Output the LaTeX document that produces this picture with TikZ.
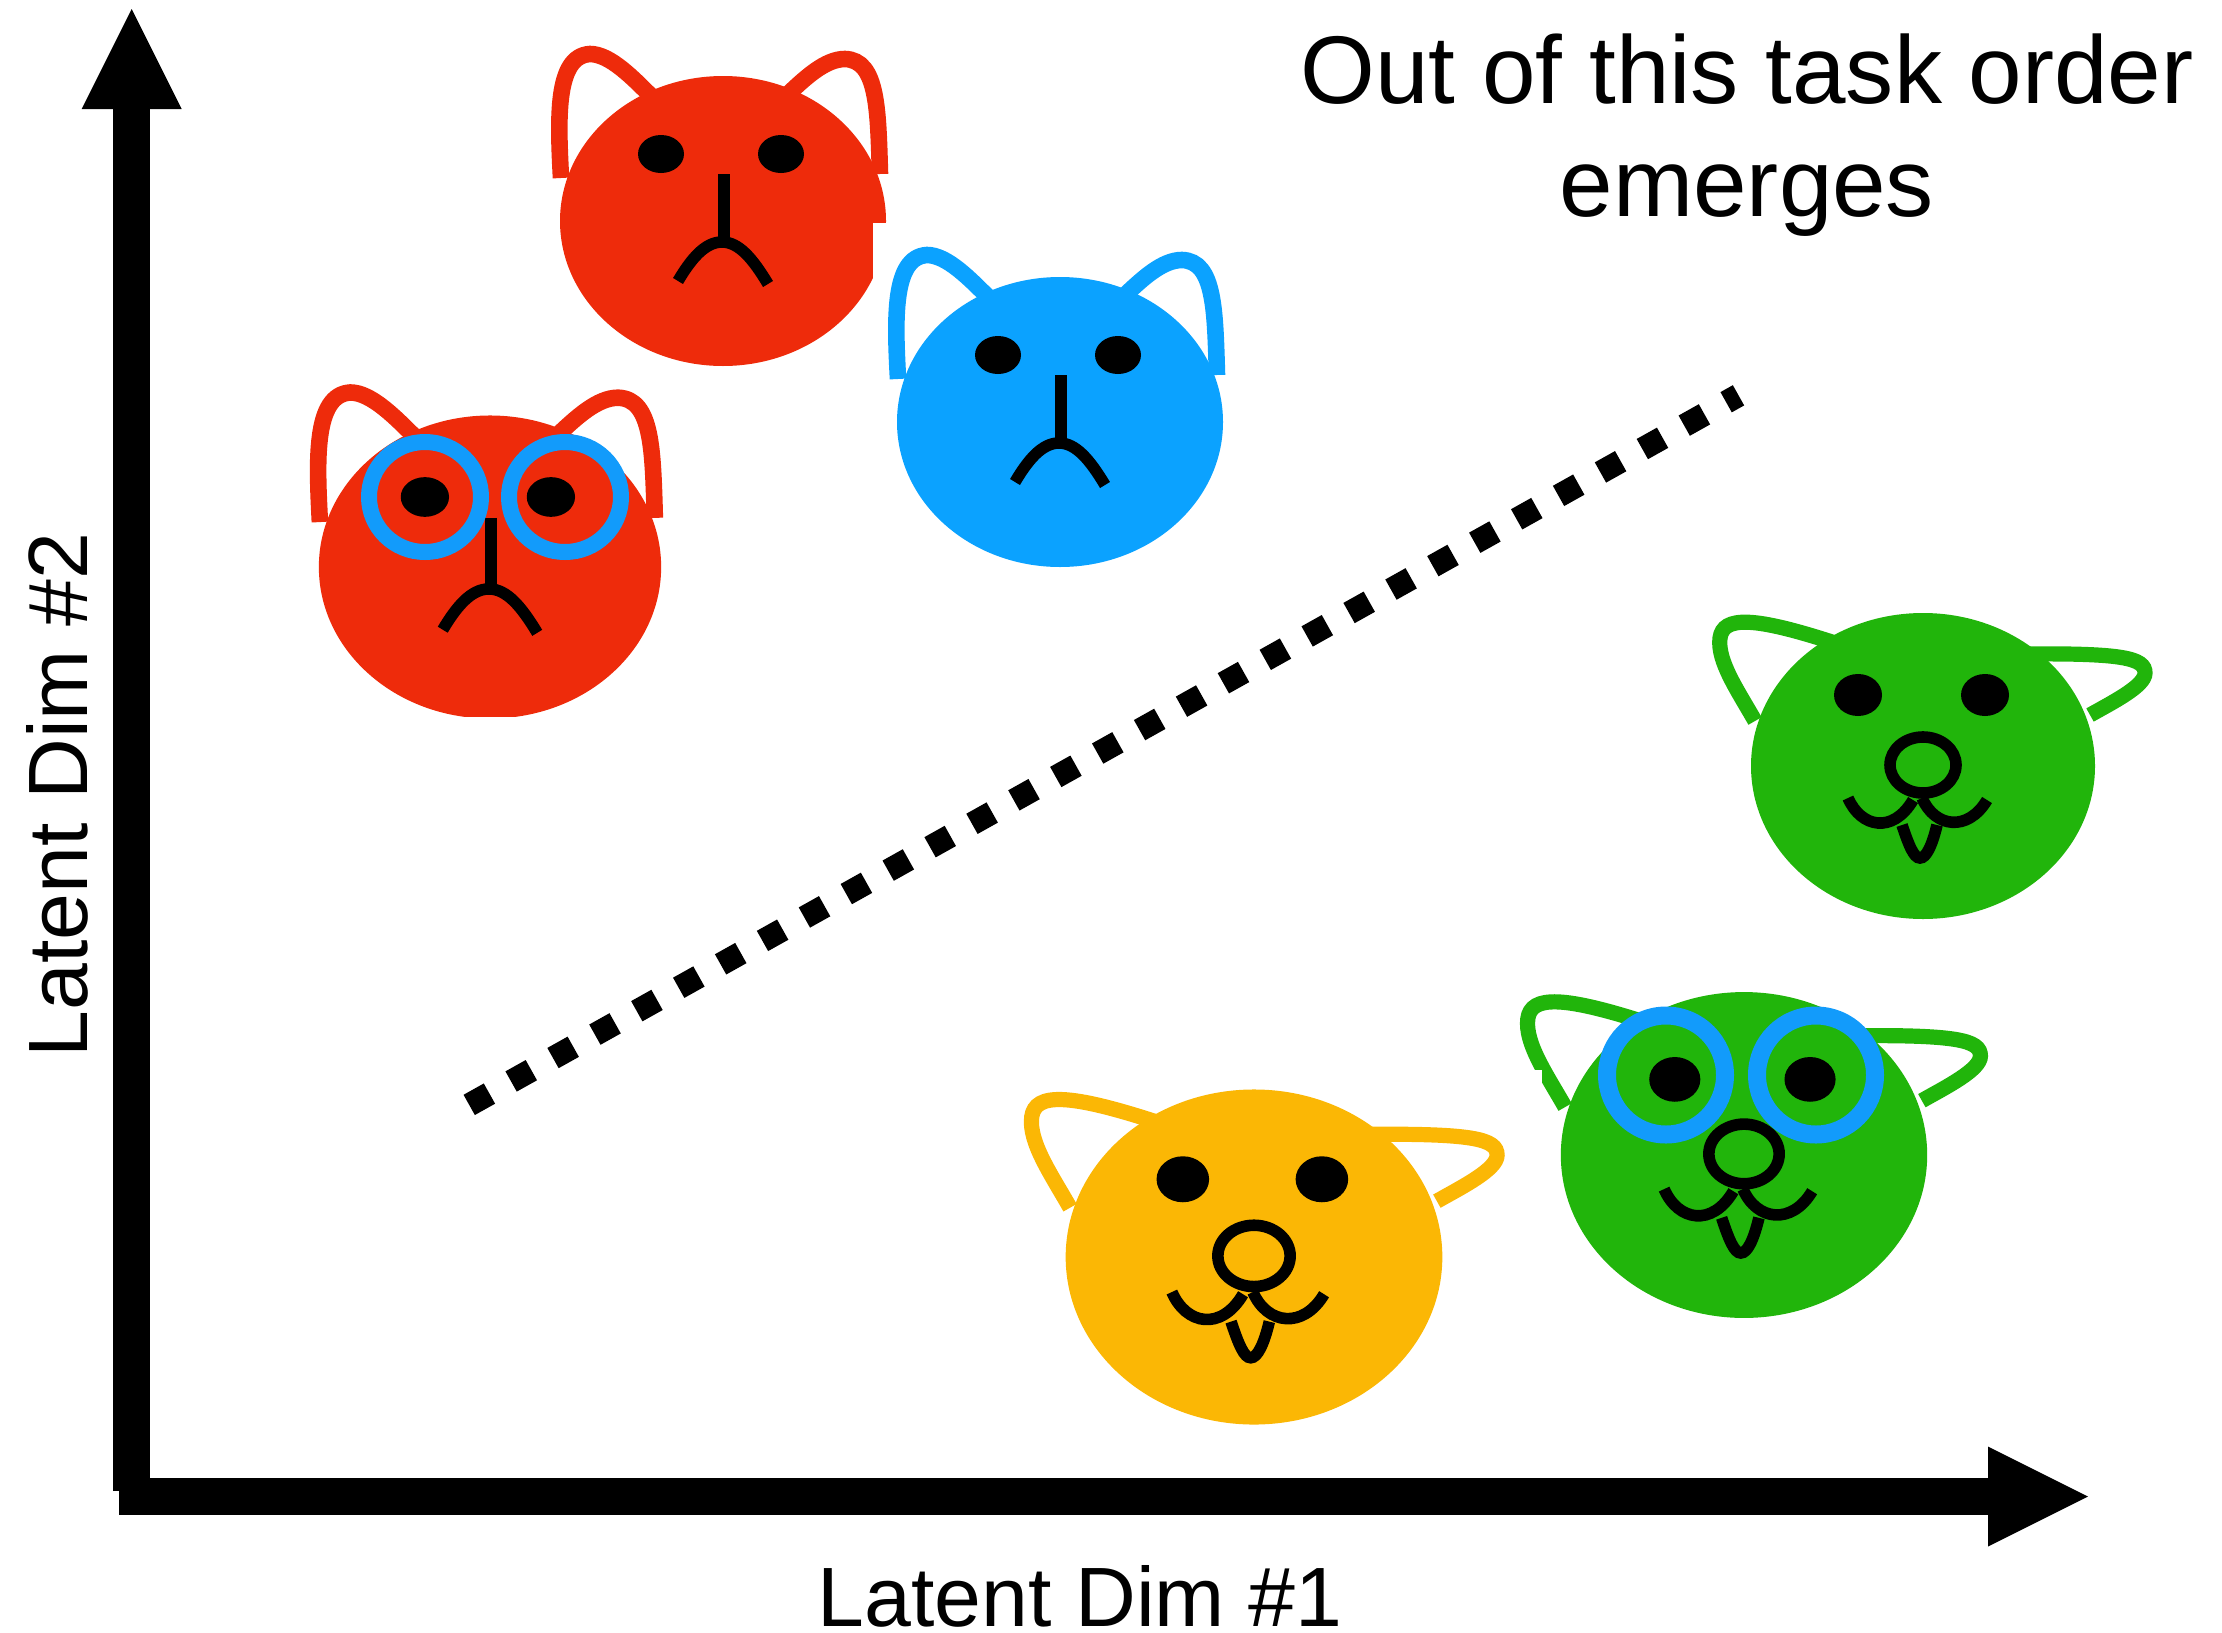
\documentclass[tikz,border=0pt]{standalone}
\usepackage{fontspec}
\setmainfont{Liberation Sans}
\usetikzlibrary{arrows.meta}
\definecolor{catred}{HTML}{EE2B0B}
\definecolor{catblue}{HTML}{0BA2FF}
\definecolor{catgreen}{HTML}{21B50B}
\definecolor{catorange}{HTML}{FBB705}
\definecolor{lensblue}{HTML}{129BFB}
\tikzset{
  axisline/.style={line width=18.5pt,-{Triangle[length=50pt,width=50pt,line width=0pt]}},
  divider/.style={line width=11.6pt,dash pattern=on 11.6pt off 12.4pt},
  earline/.style={line width=8.3pt},
  dogear/.style={line width=7.6pt},
  faceline/.style={line width=5.8pt,black},
  lens/.style={line width=8pt,draw=lensblue},
  widelens/.style={line width=9pt,draw=lensblue},
  caption/.style={font=\fontsize{42.1}{50}\selectfont,inner sep=0pt},
  headline/.style={font=\fontsize{48.1}{56.5}\selectfont,inner sep=0pt,align=center}
}
% sad cat: ears, head, eyes, nose and frown around a centre point
\newcommand{\sadcat}[5]{%
  \begin{scope}[shift={(#1,#2)},xscale=#3,yscale=#4]
    \draw[earline,#5] (-162,-43) .. controls (-165,-101) and (-168,-165) .. (-133,-167)
      .. controls (-113,-167) and (-90,-143) .. (-70,-123);
    \draw[earline,#5] (157,-47) .. controls (155,-111) and (155,-161) .. (122,-162)
      .. controls (102,-162) and (82,-143) .. (62,-124);
    \fill[#5] (0,0) ellipse [x radius=163,y radius=145];
    \fill (-62,-67) ellipse [x radius=23,y radius=19];
    \fill (58,-67) ellipse [x radius=23,y radius=19];
    \draw[faceline,line width=6pt] (1,-47) -- (1,17);
    \draw[faceline] (-45,60) .. controls (-32,38) and (-18,21) .. (-1,21)
      .. controls (16,21) and (30,38) .. (45,63);
  \end{scope}}
% happy cat: ears, head, eyes, ring nose, mouth and tongue around a centre point
\newcommand{\gladcat}[4]{%
  \begin{scope}[shift={(#1,#2)},scale=#3]
    \draw[dogear,#4] (-168,-45) .. controls (-185,-75) and (-206,-105) .. (-203,-128)
      .. controls (-200,-150) and (-170,-150) .. (-85,-122);
    \draw[dogear,#4] (167,-51) .. controls (190,-64) and (222,-80) .. (222,-93)
      .. controls (222,-108) and (200,-113) .. (100,-112);
    \fill[#4] (0,0) ellipse [x radius=172,y radius=153];
    \fill (-65,-71) ellipse [x radius=24,y radius=21];
    \fill (62,-71) ellipse [x radius=24,y radius=21];
    \draw[faceline] (-75,32) .. controls (-62,62) and (-30,68) .. (-10,34);
    \draw[faceline] (-1,32) .. controls (12,62) and (45,66) .. (64,34);
    \draw[faceline] (-21,59) .. controls (-14,80) and (-9,92) .. (-3,92)
      .. controls (3,92) and (9,80) .. (14,59);
    \draw[faceline] (0,-1) ellipse [x radius=33,y radius=28];
  \end{scope}}
\begin{document}
\begin{tikzpicture}[x=0.5pt,y=-0.5pt]
  \useasboundingbox (0,0) rectangle (2222,1633);

  % axes
  \coordinate (yfoot) at (131.7,1491);
  \coordinate (ytip) at (131.7,9);
  \coordinate (xfoot) at (119,1496.5);
  \coordinate (xtip) at (2088,1496.5);
  \draw[axisline] (yfoot) -- (ytip);
  \draw[axisline] (xfoot) -- (xtip);

  % decision boundary
  \coordinate (divstart) at (469.2,1104.9);
  \coordinate (divend) at (1738.5,395.3);
  \draw[divider] (divstart) -- (divend);

  % upper-left group
  \sadcat{723}{221}{1}{1}{catred}
  \fill[white] (873,223) rectangle (897,372);
  \sadcat{1060}{422}{1}{1}{catblue}
  \sadcat{490}{567}{1.05}{1.045}{catred}
  \fill[white] (300,717) rectangle (680,735);
  \draw[lens] (425,497) ellipse [x radius=56,y radius=55];
  \draw[lens] (565,497) ellipse [x radius=56,y radius=55];

  % lower-right group
  \gladcat{1923}{766}{1}{catgreen}
  \gladcat{1744}{1155}{1.065}{catgreen}
  \draw[widelens] (1666,1075) ellipse [x radius=59,y radius=59.5];
  \draw[widelens] (1816,1075) ellipse [x radius=59,y radius=59.5];
  \fill[white] (1500,1070) rectangle (1542,1120);
  \gladcat{1254}{1257}{1.095}{catorange}

  % labels
  \node[headline] (title) at (1747,135) {Out of this task order\\emerges};
  \node[caption] (xlabel) at (1080,1596) {Latent Dim \#1};
  \node[caption,rotate=90] (ylabel) at (57,795) {Latent Dim \#2};
\end{tikzpicture}
\end{document}
